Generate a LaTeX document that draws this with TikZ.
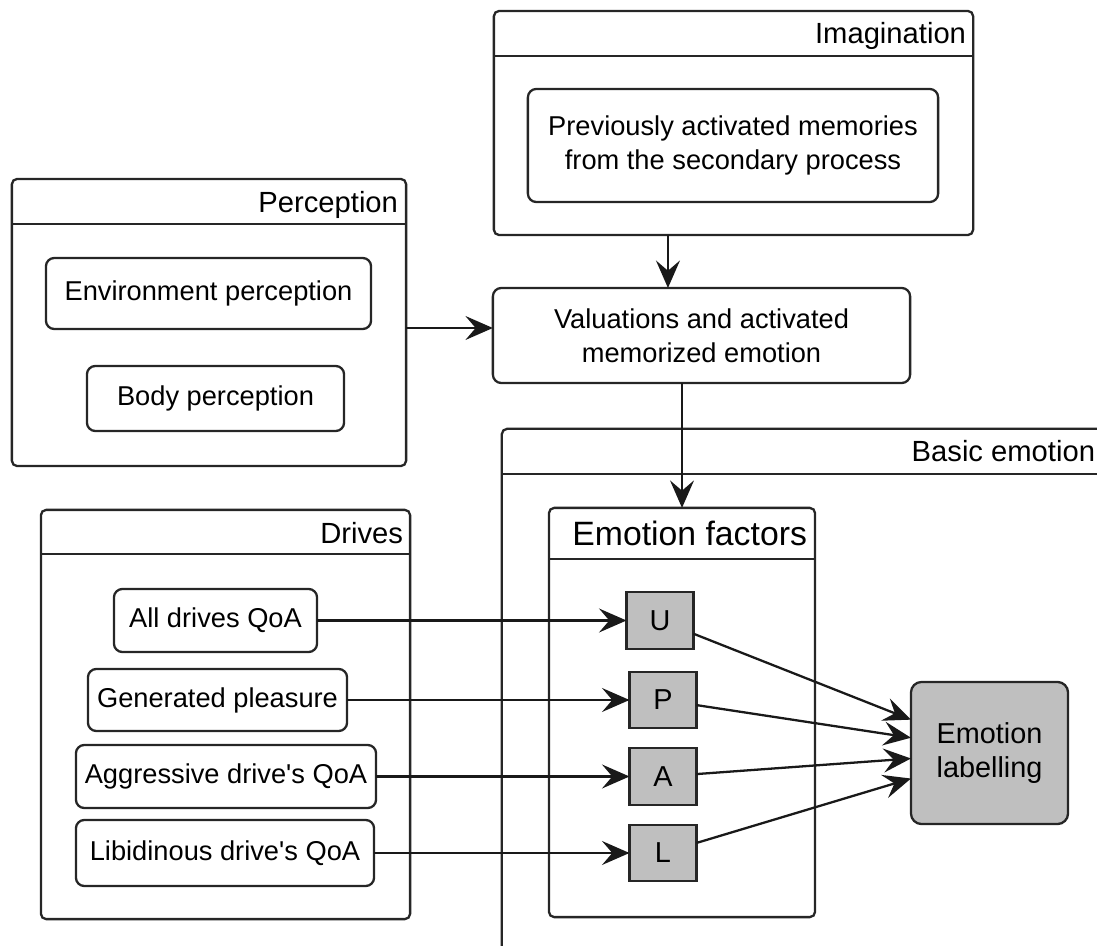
\documentclass[tikz,border=0pt]{standalone}
\usepackage{fontspec}
\setmainfont{Liberation Sans}
\usetikzlibrary{arrows.meta}

\begin{document}
\begin{tikzpicture}[x=0.01cm,y=-0.01cm,line width=0.65pt]
    \tikzstyle{lane}=[draw=black!85,rounded corners=1.5pt,inner sep=0pt,outer sep=0pt]
    \tikzstyle{box}=[draw=black!85,rounded corners=2.4pt,inner sep=0pt,outer sep=0pt,align=center,font=\fontsize{7.75}{9.7}\selectfont]
    \tikzstyle{head}=[anchor=base east,inner sep=0pt,font=\fontsize{8.3}{10}\selectfont]
    \tikzstyle{factor}=[draw=black!85,fill=black!25,inner sep=0pt,outer sep=0pt,minimum width=0.67cm,minimum height=0.565cm,font=\fontsize{8.2}{10}\selectfont]
    \tikzstyle{arr}=[draw=black!90,-{Stealth[length=7.8pt,width=6.8pt,inset=2.9pt]}]
    \useasboundingbox (0,0) rectangle (1097,946);
    \clip (0,0) rectangle (1097,946);
    % containers
    \node (imag) at (733.5,123) [lane,minimum width=4.79cm,minimum height=2.24cm] {};
    \draw [black!85] ([yshift=-4.5mm]imag.north west) -- ([yshift=-4.5mm]imag.north east);
    \node (imagtitle) at ([xshift=-0.6mm,yshift=-3.3mm]imag.north east) [head] {Imagination};
    \node (percep) at (209,322.5) [lane,minimum width=3.94cm,minimum height=2.87cm] {};
    \draw [black!85] ([yshift=-4.5mm]percep.north west) -- ([yshift=-4.5mm]percep.north east);
    \node (perceptitle) at ([xshift=-0.7mm,yshift=-3.4mm]percep.north east) [head] {Perception};
    \node (drives) at (225.5,714.5) [lane,minimum width=3.69cm,minimum height=4.09cm] {};
    \draw [black!85] ([yshift=-4.4mm]drives.north west) -- ([yshift=-4.4mm]drives.north east);
    \node (drivestitle) at ([xshift=-0.6mm,yshift=-3.4mm]drives.north east) [head] {Drives};
    \node (basic) at (802.5,714.5) [lane,minimum width=6.01cm,minimum height=5.71cm] {};
    \draw [black!85] ([yshift=-4.5mm]basic.north west) -- ([yshift=-4.5mm]basic.north east);
    \node (basictitle) at ([xshift=-0.7mm,yshift=-3.3mm]basic.north east) [head] {Basic emotion};
    \node (factors) at (682,712.5) [lane,fill=white,minimum width=2.66cm,minimum height=4.09cm] {};
    \draw [black!85] ([yshift=-5.1mm]factors.north west) -- ([yshift=-5.1mm]factors.north east);
    \node (factorstitle) at ([xshift=-0.7mm,yshift=-3.8mm]factors.north east) [head,font=\fontsize{9.6}{11}\selectfont] {Emotion factors};
    % boxes
    \node (prev) at (733,145.5) [box,minimum width=4.10cm,minimum height=1.13cm] {Previously activated memories\\from the secondary process};
    \node (envp) at (208.5,293.5) [box,minimum width=3.25cm,minimum height=0.71cm] {Environment perception};
    \node (bodyp) at (215.5,398.5) [box,minimum width=2.57cm,minimum height=0.65cm] {Body perception};
    \node (valu) at (701.5,335.5) [box,minimum width=4.17cm,minimum height=0.95cm] {Valuations and activated\\memorized emotion};
    \node (alldr) at (215.5,620.5) [box,minimum width=2.03cm,minimum height=0.63cm] {All drives QoA};
    \node (genpl) at (217.5,700) [box,minimum width=2.59cm,minimum height=0.62cm] {Generated pleasure};
    \node (aggr) at (226,776.5) [box,minimum width=3.00cm,minimum height=0.63cm] {Aggressive drive\textquotesingle s QoA};
    \node (libid) at (225,853) [box,minimum width=2.98cm,minimum height=0.66cm] {Libidinous drive\textquotesingle s QoA};
    \node (u) at (660,620.5) [factor] {U};
    \node (p) at (663,700) [factor] {P};
    \node (a) at (663,776.5) [factor] {A};
    \node (l) at (663,853) [factor] {L};
    \node (lab) at (989.5,753) [box,fill=black!25,rounded corners=3pt,minimum width=1.57cm,minimum height=1.42cm,font=\fontsize{8.2}{9.7}\selectfont] {Emotion\\labelling};
    % connections
    \draw [arr] ([yshift=-0.55mm]percep.east) -- ([yshift=-0.55mm]percep.east -| valu.west);
    \draw [arr] ([xshift=1.74cm]imag.south west) -- ([xshift=1.74cm]imag.south west |- valu.north);
    \draw [arr] (factors.north |- valu.south) -- (factors.north);
    \draw [arr] (alldr) -- (u);
    \draw [arr] (genpl) -- (p);
    \draw [arr] (aggr) -- (a);
    \draw [arr] (libid) -- (l);
    \draw [arr] (u) -- (lab.157);
    \draw [arr] (p) -- (lab.169);
    \draw [arr] (a) -- (lab.184);
    \draw [arr] (l) -- (lab.198);
\end{tikzpicture}
\end{document}
